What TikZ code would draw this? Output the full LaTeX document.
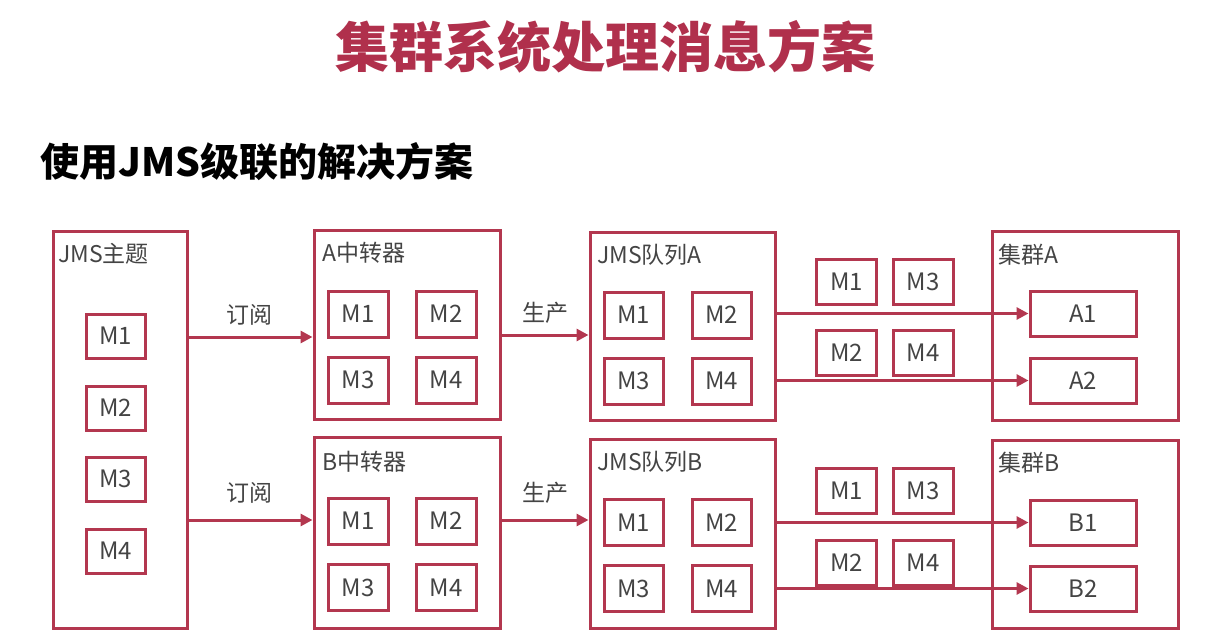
\documentclass[tikz,border=0pt]{standalone}
\usepackage{fontspec}
\setmainfont{Noto Sans CJK SC}
\usetikzlibrary{arrows.meta,shadows}
\definecolor{rose}{HTML}{B3374F}
\definecolor{titlerose}{HTML}{B0304C}
\definecolor{ink}{HTML}{444444}
\tikzset{
  frame/.style={draw=rose, line width=3pt, fill=white, inner sep=0pt,
    drop shadow={shadow xshift=1.5pt, shadow yshift=-1.5pt, fill=black, opacity=.15}},
  msg/.style={frame, minimum width=60pt, minimum height=45pt,
    font=\fontsize{24}{26}\selectfont, text=ink},
  wide/.style={msg, minimum width=106pt},
  caption/.style={anchor=west, font=\fontsize{23}{25}\selectfont, text=ink, inner sep=0pt},
  flow/.style={draw=rose, line width=3pt, -{Triangle[length=12pt,width=12pt]}},
  flowlabel/.style={font=\fontsize{23}{25}\selectfont, text=ink, inner sep=0pt},
}
\begin{document}
\begin{tikzpicture}[x=1pt, y=-1pt]
\useasboundingbox (0,0) rectangle (1205,637);

% headings
\node[font=\fontsize{54}{58}\selectfont\bfseries, text=titlerose] (title) at (605,47) {集群系统处理消息方案};
\node[anchor=west, font=\fontsize{39}{43}\selectfont\bfseries, text=black, inner sep=0pt] (subtitle) at (40,162) {使用JMS级联的解决方案};

% outer containers
\node[frame, minimum width=134pt, minimum height=397pt] (topic) at (120.5,429.5) {};
\node[frame, minimum width=186pt, minimum height=189pt] (relayA) at (407,325) {};
\node[frame, minimum width=186pt, minimum height=191pt] (relayB) at (407,532.5) {};
\node[frame, minimum width=185pt, minimum height=188pt] (queueA) at (682.5,326) {};
\node[frame, minimum width=185pt, minimum height=189pt] (queueB) at (682.5,533.5) {};
\node[frame, minimum width=186pt, minimum height=189pt] (clusterA) at (1085,325.5) {};
\node[frame, minimum width=186pt, minimum height=188pt] (clusterB) at (1085,534) {};

% container captions
\node[caption] (topicT) at (58,254) {JMS主题};
\node[caption] (relayAT) at (322,253) {A中转器};
\node[caption] (relayBT) at (322,462) {B中转器};
\node[caption] (queueAT) at (597,255) {JMS队列A};
\node[caption] (queueBT) at (597,462) {JMS队列B};
\node[caption] (clusterAT) at (998,255) {集群A};
\node[caption] (clusterBT) at (998,463) {集群B};

% topic messages
\node[msg, minimum width=59pt, minimum height=44pt] (t1) at (115.5,336) {M1};
\node[msg, minimum width=59pt, minimum height=44pt] (t2) at (115.5,408) {M2};
\node[msg, minimum width=59pt, minimum height=44pt] (t3) at (115.5,479) {M3};
\node[msg, minimum width=59pt, minimum height=44pt] (t4) at (115.5,551) {M4};

% relay A / relay B messages
\node[msg, minimum height=46pt] (ra1) at (358,314) {M1};
\node[msg, minimum height=46pt] (ra2) at (446,314) {M2};
\node[msg, minimum height=46pt] (ra3) at (358,380) {M3};
\node[msg, minimum height=46pt] (ra4) at (446,380) {M4};
\node[msg, minimum height=46pt] (rb1) at (358,521) {M1};
\node[msg, minimum height=46pt] (rb2) at (446,521) {M2};
\node[msg, minimum height=46pt] (rb3) at (358,587.5) {M3};
\node[msg, minimum height=46pt] (rb4) at (446,587.5) {M4};

% queue A / queue B messages
\node[msg, minimum width=59pt, minimum height=46pt] (qa1) at (633.5,315) {M1};
\node[msg, minimum width=59pt, minimum height=46pt] (qa2) at (721.5,315) {M2};
\node[msg, minimum width=59pt, minimum height=46pt] (qa3) at (633.5,381) {M3};
\node[msg, minimum width=59pt, minimum height=46pt] (qa4) at (721.5,381) {M4};
\node[msg, minimum width=59pt, minimum height=46pt] (qb1) at (633.5,522.5) {M1};
\node[msg, minimum width=59pt, minimum height=46pt] (qb2) at (721.5,522.5) {M2};
\node[msg, minimum width=59pt, minimum height=46pt] (qb3) at (633.5,588.5) {M3};
\node[msg, minimum width=59pt, minimum height=46pt] (qb4) at (721.5,588.5) {M4};

% cluster members
\node[wide] (a1) at (1083,313.5) {A1};
\node[wide] (a2) at (1083,380.5) {A2};
\node[wide] (b1) at (1083,522.5) {B1};
\node[wide] (b2) at (1083,588.5) {B2};

% subscribe / produce links
\coordinate (subA) at (0,337);
\coordinate (subB) at (0,520);
\coordinate (prodA) at (0,335);
\coordinate (prodB) at (0,520);
\draw[flow] (topic.east |- subA) -- (relayA.west |- subA);
\draw[flow] (topic.east |- subB) -- (relayB.west |- subB);
\draw[flow] (relayA.east |- prodA) -- (queueA.west |- prodA);
\draw[flow] (relayB.east |- prodB) -- (queueB.west |- prodB);
\node[flowlabel] (subAL) at (249,315) {订阅};
\node[flowlabel] (subBL) at (249,493) {订阅};
\node[flowlabel] (prodAL) at (545,313) {生产};
\node[flowlabel] (prodBL) at (545,493) {生产};

% queue to cluster deliveries
\draw[flow] (queueA.east |- a1.west) -- (a1.west);
\draw[flow] (queueA.east |- a2.west) -- (a2.west);
\draw[flow] (queueB.east |- b1.west) -- (b1.west);
\draw[flow] (queueB.east |- b2.west) -- (b2.west);

% messages in transit
\node[msg] (fa1) at (846.5,281.5) {M1};
\node[msg] (fa3) at (923,281.5) {M3};
\node[msg] (fa2) at (846.5,352.5) {M2};
\node[msg] (fa4) at (923,352.5) {M4};
\node[msg] (fb1) at (846.5,490.5) {M1};
\node[msg] (fb3) at (923,490.5) {M3};
\node[msg] (fb2) at (846.5,562.5) {M2};
\node[msg] (fb4) at (923,562.5) {M4};
\end{tikzpicture}
\end{document}
